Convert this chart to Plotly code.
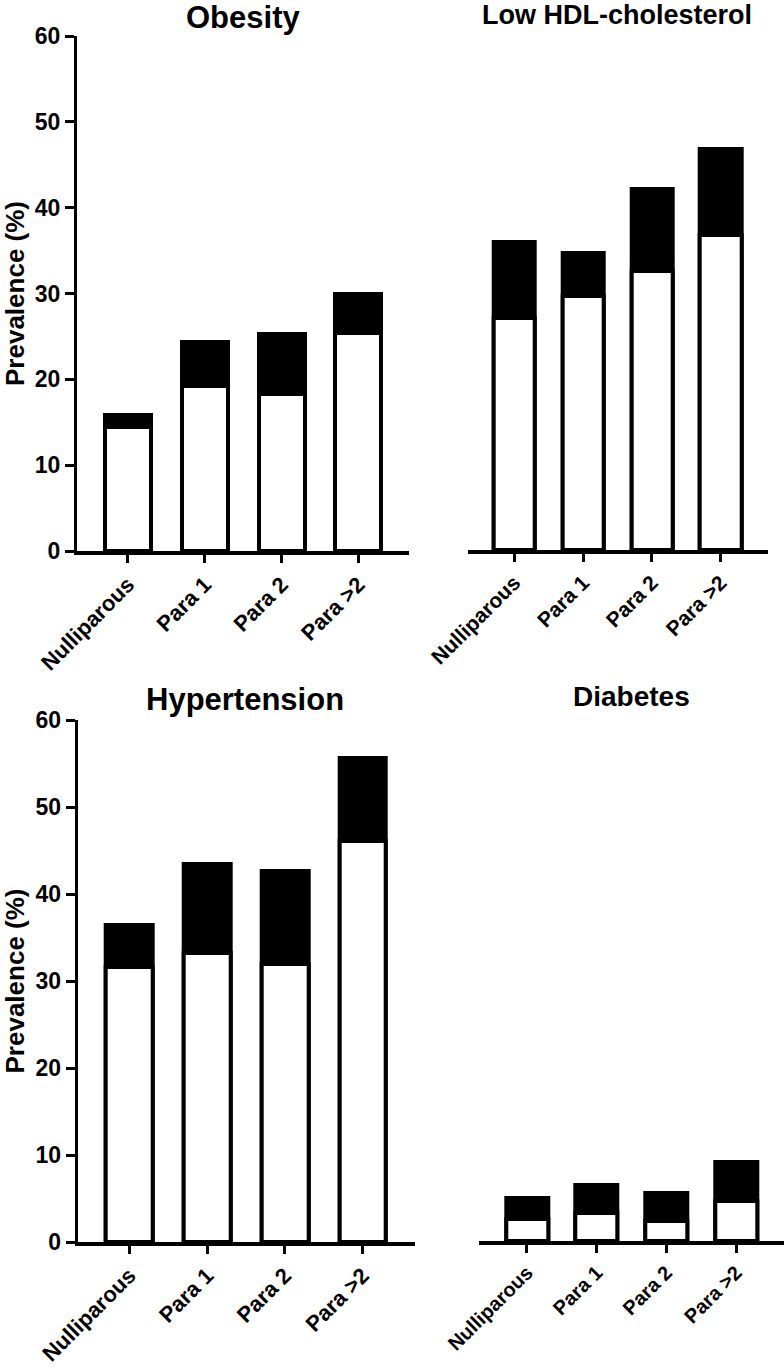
import plotly.graph_objects as go

categories = ["Nulliparous", "Para 1", "Para 2", "Para >2"]

obesity_total = [15.9, 24.3, 25.3, 29.9]
obesity_lower = [14.4, 19.2, 18.3, 25.4]

hdl_total = [36.0, 34.7, 42.1, 46.8]
hdl_lower = [27.1, 29.7, 32.6, 36.8]

htn_total = [36.4, 43.5, 42.6, 55.6]
htn_lower = [31.6, 33.2, 31.9, 46.1]

dm_total = [4.9, 6.4, 5.5, 9.1]
dm_lower = [2.5, 3.2, 2.3, 4.6]

titles = ["Obesity", "Low HDL-cholesterol", "Hypertension", "Diabetes"]
y_ticks = [0, 10, 20, 30, 40, 50, 60]

W, H = 784, 1371
FONT = "Liberation Sans, Arial, sans-serif"

def px_x(p):
    return p / W

def px_y(p):
    return 1 - p / H

panels = [
    # (total, lower, axis id, x domain px, y domain px, x range, show y, tick font size)
    (obesity_total, obesity_lower, "", (77, 409), (36, 551), (-0.664, 3.659), True, 22),
    (hdl_total, hdl_lower, "2", (467.7, 767.7), (36, 550), (-0.677, 3.683), False, 21),
    (htn_total, htn_lower, "3", (77.7, 415), (720, 1242), (-0.663, 3.672), True, 22),
    (dm_total, dm_lower, "4", (479.3, 784), (720, 1241), (-0.684, 3.687), False, 20),
]

fig = go.Figure()
layout = {}
BAR_W = 0.6
for total, lower, ax, xd, yd, xr, showy, tfs in panels:
    fig.add_trace(go.Bar(x=categories, y=total, width=BAR_W,
                         marker=dict(color="black", line=dict(color="black", width=4)),
                         xaxis="x" + ax, yaxis="y" + ax, showlegend=False))
    fig.add_trace(go.Bar(x=categories, y=lower, width=BAR_W,
                         marker=dict(color="white", line=dict(color="black", width=4)),
                         xaxis="x" + ax, yaxis="y" + ax, showlegend=False))
    layout["xaxis" + ax] = dict(
        domain=[px_x(xd[0]), min(1.0, px_x(xd[1]))], anchor="y" + ax,
        range=list(xr), type="category", automargin=False,
        showline=True, linecolor="black", linewidth=4,
        ticks="outside", ticklen=8, tickwidth=3, tickcolor="black",
        tickangle=-45, showgrid=False, zeroline=False,
        tickfont=dict(family=FONT, size=tfs, color="black", weight="bold"),
    )
    ydict = dict(
        domain=[px_y(yd[1]), px_y(yd[0])], anchor="x" + ax,
        range=[0, 60], showgrid=False, zeroline=False, automargin=False,
    )
    if showy:
        ydict.update(
            showline=True, linecolor="black", linewidth=3,
            ticks="outside", ticklen=9, tickwidth=3, tickcolor="black",
            tickvals=y_ticks, ticktext=[str(v) for v in y_ticks],
            tickfont=dict(family=FONT, size=23, color="black", weight="bold"),
            title=dict(text="Prevalence (%)", standoff=6,
                       font=dict(family=FONT, size=26, color="black", weight="bold")),
        )
    else:
        ydict.update(showline=False, showticklabels=False, ticks="")
    layout["yaxis" + ax] = ydict

title_pos = [(243, 17.5, 31), (617, 15.5, 27), (245, 699.5, 31), (631.7, 696.5, 28)]
annotations = []
for t, (cx, cy, fs) in zip(titles, title_pos):
    annotations.append(dict(
        text=t, x=px_x(cx), y=px_y(cy), xref="paper", yref="paper",
        xanchor="center", yanchor="middle", showarrow=False,
        font=dict(family=FONT, size=fs, color="black", weight="bold"),
    ))

fig.update_layout(
    width=W, height=H, margin=dict(l=0, r=0, t=0, b=0, autoexpand=False),
    paper_bgcolor="white", plot_bgcolor="white",
    barmode="overlay", bargap=0, annotations=annotations,
    **layout,
)

fig.write_html("out.html", config={"displayModeBar": False},
               post_script="document.body.style.margin='0';document.body.style.overflow='hidden';")
